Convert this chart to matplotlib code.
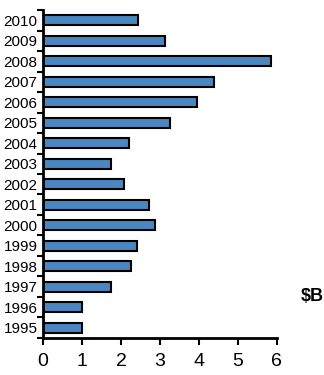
import matplotlib
matplotlib.use("Agg")
import matplotlib.pyplot as plt
import numpy as np

years = ["1995", "1996", "1997", "1998", "1999", "2000", "2001", "2002",
         "2003", "2004", "2005", "2006", "2007", "2008", "2009", "2010"]
values = [1.0, 1.0, 1.75, 2.25, 2.4, 2.88, 2.72, 2.08,
          1.75, 2.2, 3.25, 3.95, 4.4, 5.85, 3.12, 2.45]

plt.rcParams['font.family'] = ['Liberation Sans', 'DejaVu Sans']
narrow = ['Liberation Sans Narrow', 'Liberation Sans']

fig = plt.figure(figsize=(3.24, 3.75), dpi=100)
ax = fig.add_axes([0.133, 0.099, 0.721, 0.874])

pos = np.arange(len(years))
ax.barh(pos, values, height=0.5, color="#4a86c0", edgecolor="black", linewidth=1.5)

ax.set_xlim(0, 6)
ax.set_ylim(-0.5, len(years) - 0.5)
ax.set_xticks(range(7))
ax.set_xticklabels([str(i) for i in range(7)], fontsize=14, family=narrow)
ax.tick_params(axis="x", length=5, width=1.5, direction="out", pad=6)

ax.set_yticks(pos)
ax.set_yticklabels(years, fontsize=11, family=narrow)
ax.tick_params(axis="y", which="major", length=0, pad=4)
ax.set_yticks(np.arange(-0.5, len(years), 1), minor=True)
ax.tick_params(axis="y", which="minor", length=4, width=1.5, direction="out")

for s in ["top", "right"]:
    ax.spines[s].set_visible(False)
ax.spines["left"].set_linewidth(2)
ax.spines["bottom"].set_linewidth(2)

fig.text(0.965, 0.21, "$B", fontsize=13, fontweight="bold", ha="center", va="center",
         family=narrow)

fig.savefig("out.png", dpi=100)
